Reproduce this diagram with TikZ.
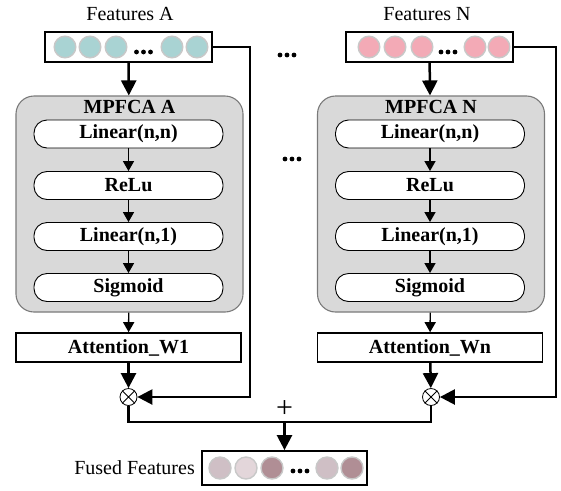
\documentclass[tikz,border=0pt]{standalone}
\usepackage{fontspec}
\setmainfont{Liberation Serif}
\usetikzlibrary{arrows.meta}

\definecolor{tealdot}{HTML}{A9D3D3}
\definecolor{pinkdot}{HTML}{F3AAB6}
\definecolor{fusedA}{HTML}{CFBFC5}
\definecolor{fusedB}{HTML}{E3D6DA}
\definecolor{fusedC}{HTML}{B08E95}
\definecolor{dotrim}{HTML}{C8C8C8}
\definecolor{panelfill}{HTML}{D9D9D9}
\definecolor{panelrim}{HTML}{7A7A7A}

\tikzset{
  lbl/.style={font=\fontsize{20}{22}\selectfont, inner sep=0pt},
  featbox/.style={draw, line width=1.8pt, minimum width=167pt, minimum height=30pt, inner sep=0pt},
  panel/.style={draw=panelrim, line width=1.1pt, fill=panelfill, rounded corners=18pt,
    minimum width=227pt, minimum height=216pt, inner sep=0pt},
  paneltitle/.style={font=\fontsize{20}{22}\selectfont\bfseries, inner sep=0pt},
  pill/.style={draw, line width=0.9pt, fill=white, rounded corners=13pt,
    minimum width=189pt, minimum height=28pt, inner sep=0pt,
    font=\fontsize{20}{22}\selectfont\bfseries},
  attbox/.style={draw, line width=1.6pt, fill=white, minimum width=225pt, minimum height=29pt,
    inner sep=0pt, font=\fontsize{20}{22}\selectfont\bfseries},
  mult/.style={circle, draw, line width=0.8pt, minimum size=17pt, inner sep=0pt, fill=white},
  link/.style={line width=2.5pt, -{Triangle[length=15pt, width=15pt]}},
  thinlink/.style={line width=1.4pt, -{Triangle[length=10pt, width=11pt]}},
  wire/.style={line width=2.5pt},
  dot/.style={draw=dotrim, line width=1.4pt},
}

% three small dots marking an elided sequence
\newcommand{\elide}[2]{%
  \fill (#1-7,#2) circle (2.4pt);
  \fill (#1,#2) circle (2.4pt);
  \fill (#1+7,#2) circle (2.4pt);}

\begin{document}
\begin{tikzpicture}[x=1pt, y=-1pt]
\useasboundingbox (0,0) rectangle (561,490);

% ---------- branch A ----------
\node[lbl] (titleA) at (130,14) {Features A};
\node[featbox] (featA) at (128.5,47) {};
\foreach \x in {65,90,116,172,197} \filldraw[dot, fill=tealdot] (\x,47) circle (10.8pt);
\elide{143.5}{52}

\node[panel] (mpA) at (129.5,204) {};
\node[paneltitle] (mpAt) at (129.5,107) {MPFCA A};
\node[pill] (a1) at (128.5,134) {Linear(n,n)};
\node[pill] (a2) at (128.5,185.5) {ReLu};
\node[pill] (a3) at (128.5,236.5) {Linear(n,1)};
\node[pill] (a4) at (128.5,287.5) {Sigmoid};
\node[attbox] (attA) at (128.5,347.5) {Attention\_W1};
\node[mult] (otA) at (128.5,397) {};
\draw[line width=0.8pt] (otA.north west) -- (otA.south east) (otA.north east) -- (otA.south west);

\draw[link] (featA) -- (mpA);
\draw[thinlink] (a1) -- (a2);
\draw[thinlink] (a2) -- (a3);
\draw[thinlink] (a3) -- (a4);
\draw[thinlink] (mpA) -- (attA);
\draw[link] (attA) -- (otA);
\coordinate (cornerA) at (250,397);
\draw[link] (featA.east) -| (cornerA) -- (otA.east);

% ---------- branch N ----------
\node[lbl] (titleN) at (427,14) {Features N};
\node[featbox] (featN) at (429.5,47) {};
\foreach \x in {369,395,422,475,499} \filldraw[dot, fill=pinkdot] (\x,47) circle (10.8pt);
\elide{448}{52}

\node[panel] (mpN) at (431,204) {};
\node[paneltitle] (mpNt) at (431,107) {MPFCA N};
\node[pill] (n1) at (430,134) {Linear(n,n)};
\node[pill] (n2) at (430,185.5) {ReLu};
\node[pill] (n3) at (430,236.5) {Linear(n,1)};
\node[pill] (n4) at (430,287.5) {Sigmoid};
\node[attbox] (attN) at (430,347.5) {Attention\_Wn};
\node[mult] (otN) at (431,397) {};
\draw[line width=0.8pt] (otN.north west) -- (otN.south east) (otN.north east) -- (otN.south west);

\draw[link] (featN) -- (mpN);
\draw[thinlink] (n1) -- (n2);
\draw[thinlink] (n2) -- (n3);
\draw[thinlink] (n3) -- (n4);
\draw[thinlink] (mpN) -- (attN);
\draw[link] (attN) -- (otN);
\coordinate (cornerN) at (556,397);
\draw[link] (featN.east) -| (cornerN) -- (otN.east);

% ---------- elision between branches ----------
\elide{287}{55}
\elide{292}{159}

% ---------- fusion ----------
\node[featbox, minimum width=165pt, minimum height=34pt] (fused) at (284.5,468) {};
\foreach \x/\c in {220/fusedA,246/fusedB,272/fusedC,327/fusedA,352/fusedC}
  \filldraw[dot, fill=\c] (\x,468) circle (11pt);
\elide{300}{471}
\node[lbl, anchor=east] (fusedlbl) at (195,468) {Fused Features};

\coordinate (merge) at (284.5,422);
\draw[wire] (otA.south) |- (merge) -| (otN.south);
\draw[link] (merge) -- (fused.north);
\node[font=\fontsize{30}{30}\selectfont, inner sep=0pt] (plus) at (284.5,409) {+};
\end{tikzpicture}
\end{document}
